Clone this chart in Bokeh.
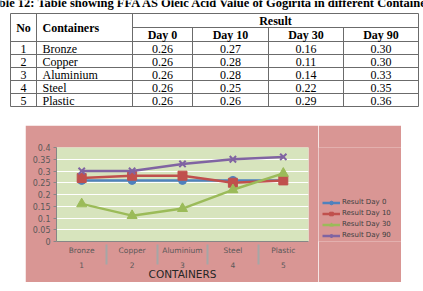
from bokeh.plotting import figure
from bokeh.models import (FactorRange, Range1d, Legend, LegendItem, Label,
                          FixedTicker, ColumnDataSource, Spacer)
from bokeh.layouts import column, row
from bokeh.embed import file_html
from bokeh.resources import INLINE
from bokeh.core.properties import value

# ---------------- data ----------------
table_title = "Table 12: Table showing FFA AS Oleic Acid Value of Gogirita in different Containers"
chart_title = "FFA AS OLEIC ACID %w/w"
x_title = "CONTAINERS"
numbers = ["1", "2", "3", "4", "5"]
containers = ["Bronze", "Copper", "Aluminium", "Steel", "Plastic"]
day_headers = ["Day 0", "Day 10", "Day 30", "Day 90"]
series_names = ["Result Day 0", "Result Day 10", "Result Day 30", "Result Day 90"]
day0 = [0.26, 0.26, 0.26, 0.26, 0.26]
day10 = [0.27, 0.28, 0.28, 0.25, 0.26]
day30 = [0.16, 0.11, 0.14, 0.22, 0.29]
day90 = [0.30, 0.30, 0.33, 0.35, 0.36]
y_ticks = [0, 0.05, 0.1, 0.15, 0.2, 0.25, 0.3, 0.35, 0.4]
y_tick_labels = ["0", "0.05", "0.1", "0.15", "0.2", "0.25", "0.3", "0.35", "0.4"]

series = [day0, day10, day30, day90]
colors = ["#4F81BD", "#C0504D", "#9BBB59", "#8064A2"]
markers = ["circle", "square", "triangle", "x"]
msizes = [8, 9, 10, 9]
PINK = "#D99694"

# ---------------- table ----------------
W = 423
TH = 125
t = figure(width=W, height=TH, x_range=Range1d(0, W), y_range=Range1d(TH, 0),
           output_backend="svg", toolbar_location=None, min_border=0,
           x_axis_location=None, y_axis_location=None,
           outline_line_color=None, background_fill_color="white",
           border_fill_color="white")
t.grid.visible = False

col_x = [10, 36, 132, 192, 268, 343, 418]
row_y = [13, 27, 41, 54, 67, 80, 93, 106]
lc = "#6b6b6b"
hx0 = [col_x[0]] + [col_x[2]] + [col_x[0]] * 6
hx1 = [col_x[-1]] * 8
hy = row_y
t.segment(x0=hx0, y0=hy, x1=hx1, y1=hy, line_color=lc, line_width=1)
vx = [col_x[0], col_x[1], col_x[2], col_x[6], col_x[3], col_x[4], col_x[5]]
vy0 = [row_y[0]] * 4 + [row_y[1]] * 3
vy1 = [row_y[-1]] * 7
t.segment(x0=vx, y0=vy0, x1=vx, y1=vy1, line_color=lc, line_width=1)

serif = value("Liberation Serif")
t.text(x=[W / 2], y=[2], text=[table_title], text_font=serif, text_font_size="12.5px",
       text_font_style="bold", text_align="center", text_baseline="alphabetic",
       text_color="black")
t.text(x=[(col_x[0] + col_x[1]) / 2], y=[(row_y[0] + row_y[2]) / 2], text=["No"],
       text_font=serif, text_font_size="12px", text_font_style="bold",
       text_align="center", text_baseline="middle", text_color="black")
t.text(x=[col_x[1] + 6], y=[(row_y[0] + row_y[2]) / 2], text=["Containers"],
       text_font=serif, text_font_size="12px", text_font_style="bold",
       text_align="left", text_baseline="middle", text_color="black")
t.text(x=[(col_x[2] + col_x[6]) / 2], y=[(row_y[0] + row_y[1]) / 2 + 0.5], text=["Result"],
       text_font=serif, text_font_size="12px", text_font_style="bold",
       text_align="center", text_baseline="middle", text_color="black")
dcx = [(col_x[i] + col_x[i + 1]) / 2 for i in range(2, 6)]
t.text(x=dcx, y=[(row_y[1] + row_y[2]) / 2 + 0.5] * 4, text=day_headers,
       text_font=serif, text_font_size="12px", text_font_style="bold",
       text_align="center", text_baseline="middle", text_color="black")
rcy = [(row_y[i] + row_y[i + 1]) / 2 + 0.5 for i in range(2, 7)]
t.text(x=[(col_x[0] + col_x[1]) / 2] * 5, y=rcy, text=numbers, text_font=serif,
       text_font_size="12px", text_align="center", text_baseline="middle", text_color="black")
t.text(x=[col_x[1] + 6] * 5, y=rcy, text=containers, text_font=serif,
       text_font_size="12px", text_align="left", text_baseline="middle", text_color="black")
for j, s in enumerate(series):
    t.text(x=[dcx[j]] * 5, y=rcy, text=["%.2f" % v for v in s], text_font=serif,
           text_font_size="12px", text_align="center", text_baseline="middle",
           text_color="black")

# ---------------- chart ----------------
CW = 293
CH = 157
factors = list(zip(numbers, containers))
p = figure(width=CW, height=CH,
           x_range=FactorRange(factors=factors, factor_padding=0, group_padding=0,
                               subgroup_padding=0, range_padding=0),
           y_range=Range1d(0, 0.4), output_backend="svg", toolbar_location=None,
           background_fill_color="#D7E4BD", border_fill_color=PINK,
           outline_line_color=None, min_border_left=31, min_border_right=10,
           min_border_top=22, min_border_bottom=36)

sans = "DejaVu Sans"
p.yaxis.ticker = FixedTicker(ticks=y_ticks)
p.yaxis.major_label_overrides = dict(zip(y_ticks, y_tick_labels))
p.yaxis.major_label_text_font = sans
p.yaxis.major_label_text_font_size = "8px"
p.yaxis.major_label_text_color = "#595959"
p.yaxis.axis_line_color = "#868686"
p.yaxis.major_tick_line_color = "#868686"
p.yaxis.major_tick_out = 3
p.yaxis.major_tick_in = 0
p.yaxis.minor_tick_line_color = None
p.yaxis.major_label_standoff = 3
p.ygrid.ticker = FixedTicker(ticks=y_ticks)
p.ygrid.grid_line_color = "white"
p.ygrid.grid_line_width = 1
p.xgrid.grid_line_color = None

p.xaxis.axis_line_color = "#868686"
p.xaxis.major_tick_line_color = None
p.xaxis.major_tick_out = 0
p.xaxis.major_tick_in = 0
p.xaxis.major_label_text_font = sans
p.xaxis.major_label_text_font_size = "7.5px"
p.xaxis.major_label_text_color = "#595959"
p.xaxis.group_text_font = sans
p.xaxis.group_text_font_size = "7.5px"
p.xaxis.group_text_color = "#595959"
p.xaxis.group_text_font_style = "normal"
p.xaxis.separator_line_color = "#a6a6a6"
p.xaxis.major_label_standoff = 4
p.xaxis.axis_label = x_title
p.xaxis.axis_label_text_font = sans
p.xaxis.axis_label_text_font_size = "10.5px"
p.xaxis.axis_label_text_font_style = "normal"
p.xaxis.axis_label_text_color = "#262626"
p.xaxis.axis_label_standoff = -3

for s, c, m, ms in zip(series, colors, markers, msizes):
    src = ColumnDataSource(dict(x=factors, y=s))
    p.line("x", "y", source=src, line_color=c, line_width=2.5)
    if m == "x":
        p.scatter("x", "y", source=src, marker=m, size=ms, line_color=c, line_width=2)
    else:
        p.scatter("x", "y", source=src, marker=m, size=ms, fill_color=c, line_color=c)

title = Label(x=3.115, y=0.4485, text=chart_title, text_align="center",
              text_baseline="middle", text_font=sans, text_font_size="13.5px",
              text_font_style="bold", text_color="#1a1a1a")
p.add_layout(title)

# ---------------- legend panel ----------------
LW = 83
lf = figure(width=LW, height=CH, x_range=Range1d(2, 3), y_range=Range1d(2, 3),
            output_backend="svg", toolbar_location=None, min_border=0,
            x_axis_location=None, y_axis_location=None,
            outline_line_color=None, background_fill_color=PINK,
            border_fill_color=PINK)
lf.grid.visible = False
items = []
for name, s, c, m in zip(series_names, series, colors, markers):
    # proxy renderers: the series values lie outside this panel's ranges
    src = ColumnDataSource(dict(x=s, y=s))
    lr = lf.line("x", "y", source=src, line_color=c, line_width=2.5)
    if m == "x":
        sr = lf.scatter("x", "y", source=src, marker=m, size=7, line_color=c, line_width=2)
    else:
        sr = lf.scatter("x", "y", source=src, marker=m, size=7, fill_color=c, line_color=c)
    items.append(LegendItem(label=name, renderers=[lr, sr]))

legend = Legend(items=items, location=(4, 1.5), orientation="vertical",
                label_text_font=sans, label_text_font_size="7px",
                label_text_color="#404040", glyph_width=18, glyph_height=9,
                label_height=9, spacing=2, padding=0, margin=0, label_standoff=2,
                background_fill_alpha=0, border_line_color=None)
lf.add_layout(legend)

layout = column(t, row(Spacer(width=25, height=CH), p, lf))
open("out.html", "w").write(file_html(layout, INLINE))
